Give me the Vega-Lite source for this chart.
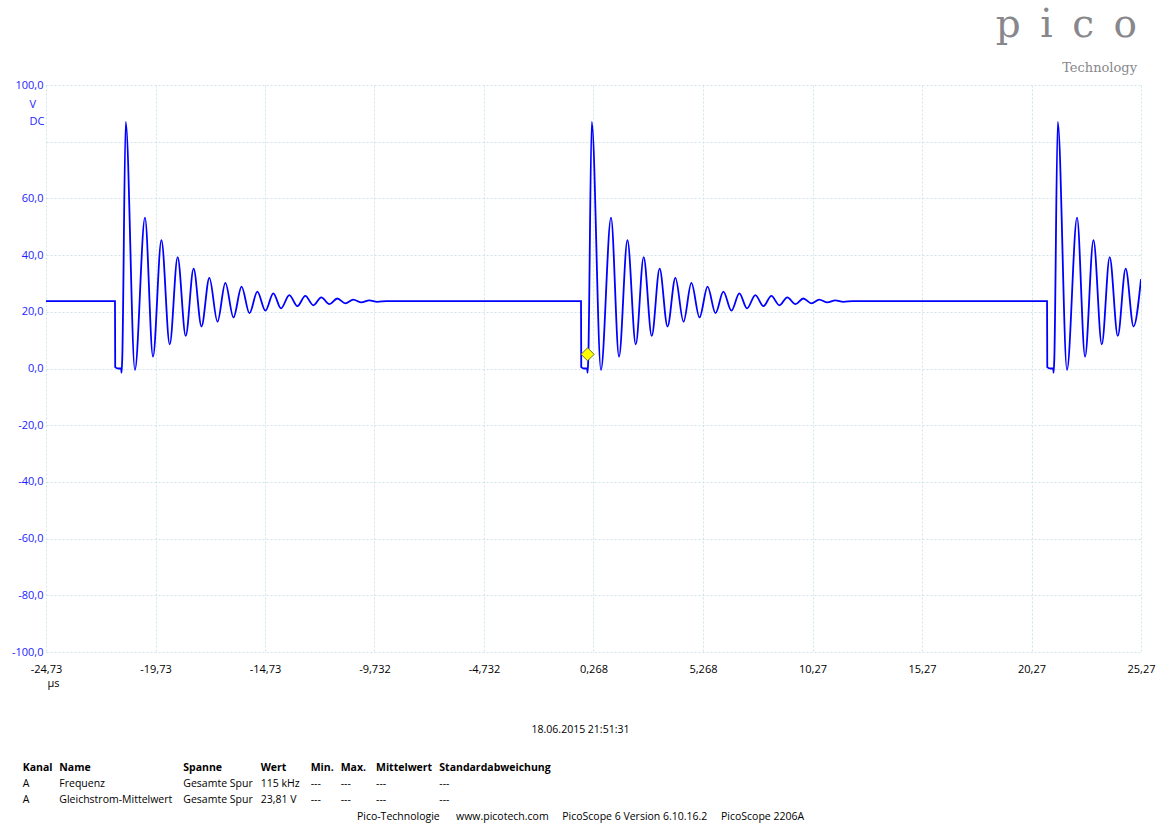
{
  "$schema": "https://vega.github.io/schema/vega-lite/v6.json",
  "autosize": {"type": "pad"},
  "padding": {"left": 11, "top": 6, "right": 0, "bottom": 0},
  "background": "#ffffff",
  "config": {
    "font": "Open Sans",
    "view": {"stroke": null},
    "axis": {"labelFont": "Open Sans", "labelFontSize": 11, "gridColor": "#cfe5ea", "gridDash": [2, 2], "gridWidth": 1, "domain": false, "ticks": false, "tickSize": 0, "labelOverlap": false, "labelFlush": false, "labelBound": false}
  },
  "datasets": {
    "trace": [
      {"t": -24.73, "v": 23.8},
      {"t": -21.58, "v": 23.8}, {"t": -21.57, "v": 0.5}, {"t": -21.43, "v": 0.0}, {"t": -21.30, "v": 0.0}, {"t": -21.28, "v": -1.5}, {"t": -21.25, "v": 3.0},
      {"t": -21.09, "v": 87.0}, {"t": -20.67, "v": -0.5}, {"t": -20.21, "v": 53.2}, {"t": -19.845, "v": 4.2}, {"t": -19.46, "v": 45.3}, {"t": -19.08, "v": 8.5},
      {"t": -18.72, "v": 39.3}, {"t": -18.35, "v": 11.5}, {"t": -17.99, "v": 35.2}, {"t": -17.63, "v": 14.8}, {"t": -17.27, "v": 32.0}, {"t": -16.90, "v": 16.5},
      {"t": -16.54, "v": 30.2}, {"t": -16.17, "v": 18.0}, {"t": -15.80, "v": 28.9}, {"t": -15.44, "v": 19.5}, {"t": -15.08, "v": 27.1}, {"t": -14.71, "v": 20.4},
      {"t": -14.35, "v": 26.5}, {"t": -14.00, "v": 21.2}, {"t": -13.62, "v": 25.9}, {"t": -13.25, "v": 22.0}, {"t": -12.89, "v": 25.6}, {"t": -12.52, "v": 22.3},
      {"t": -12.16, "v": 25.1}, {"t": -11.79, "v": 22.7}, {"t": -11.43, "v": 24.7}, {"t": -11.06, "v": 23.0}, {"t": -10.70, "v": 24.3}, {"t": -10.33, "v": 23.3},
      {"t": -9.97, "v": 24.0}, {"t": -9.60, "v": 23.5}, {"t": -9.18, "v": 23.8},
      {"t": -0.30, "v": 23.8}, {"t": -0.29, "v": 0.5}, {"t": -0.15, "v": 0.0}, {"t": -0.02, "v": 0.0}, {"t": 0.00, "v": -1.5}, {"t": 0.03, "v": 3.0},
      {"t": 0.19, "v": 87.0}, {"t": 0.61, "v": -0.5}, {"t": 1.07, "v": 53.2}, {"t": 1.435, "v": 4.2}, {"t": 1.82, "v": 45.3}, {"t": 2.20, "v": 8.5},
      {"t": 2.56, "v": 39.3}, {"t": 2.93, "v": 11.5}, {"t": 3.29, "v": 35.2}, {"t": 3.65, "v": 14.8}, {"t": 4.01, "v": 32.0}, {"t": 4.38, "v": 16.5},
      {"t": 4.74, "v": 30.2}, {"t": 5.11, "v": 18.0}, {"t": 5.48, "v": 28.9}, {"t": 5.84, "v": 19.5}, {"t": 6.20, "v": 27.1}, {"t": 6.57, "v": 20.4},
      {"t": 6.93, "v": 26.5}, {"t": 7.28, "v": 21.2}, {"t": 7.66, "v": 25.9}, {"t": 8.03, "v": 22.0}, {"t": 8.39, "v": 25.6}, {"t": 8.76, "v": 22.3},
      {"t": 9.12, "v": 25.1}, {"t": 9.49, "v": 22.7}, {"t": 9.85, "v": 24.7}, {"t": 10.22, "v": 23.0}, {"t": 10.58, "v": 24.3}, {"t": 10.95, "v": 23.3},
      {"t": 11.31, "v": 24.0}, {"t": 11.68, "v": 23.5}, {"t": 12.10, "v": 23.8},
      {"t": 20.98, "v": 23.8}, {"t": 20.99, "v": 0.5}, {"t": 21.13, "v": 0.0}, {"t": 21.26, "v": 0.0}, {"t": 21.28, "v": -1.5}, {"t": 21.31, "v": 3.0},
      {"t": 21.47, "v": 87.0}, {"t": 21.89, "v": -0.5}, {"t": 22.35, "v": 53.2}, {"t": 22.715, "v": 4.2}, {"t": 23.10, "v": 45.3}, {"t": 23.48, "v": 8.5},
      {"t": 23.84, "v": 39.3}, {"t": 24.21, "v": 11.5}, {"t": 24.57, "v": 35.2}, {"t": 24.93, "v": 14.8}, {"t": 25.27, "v": 31.5}
    ],
    "trigger": [{"t": 0, "v": 5}],
    "table": [
      {"r": 0, "c": 8, "s": "18.06.2015 21:51:31"},
      {"r": 1, "c": 0, "s": "Kanal"}, {"r": 1, "c": 1, "s": "Name"}, {"r": 1, "c": 2, "s": "Spanne"}, {"r": 1, "c": 3, "s": "Wert"},
      {"r": 1, "c": 4, "s": "Min."}, {"r": 1, "c": 5, "s": "Max."}, {"r": 1, "c": 6, "s": "Mittelwert"}, {"r": 1, "c": 7, "s": "Standardabweichung"},
      {"r": 2, "c": 0, "s": "A"}, {"r": 2, "c": 1, "s": "Frequenz"}, {"r": 2, "c": 2, "s": "Gesamte Spur"}, {"r": 2, "c": 3, "s": "115 kHz"},
      {"r": 2, "c": 4, "s": "---"}, {"r": 2, "c": 5, "s": "---"}, {"r": 2, "c": 6, "s": "---"}, {"r": 2, "c": 7, "s": "---"},
      {"r": 3, "c": 0, "s": "A"}, {"r": 3, "c": 1, "s": "Gleichstrom-Mittelwert"}, {"r": 3, "c": 2, "s": "Gesamte Spur"}, {"r": 3, "c": 3, "s": "23,81 V"},
      {"r": 3, "c": 4, "s": "---"}, {"r": 3, "c": 5, "s": "---"}, {"r": 3, "c": 6, "s": "---"}, {"r": 3, "c": 7, "s": "---"},
      {"r": 5, "c": 8, "s": "Pico-Technologie\u00a0\u00a0\u00a0\u00a0\u00a0\u00a0www.picotech.com\u00a0\u00a0\u00a0\u00a0\u00a0PicoScope 6 Version 6.10.16.2\u00a0\u00a0\u00a0\u00a0\u00a0PicoScope 2206A"}
    ]
  },
  "vconcat": [
    {
      "width": 1095,
      "height": 567,
      "title": {"text": "p\u2002i\u2002c\u2002o", "subtitle": "Technology", "anchor": "end", "frame": "group", "font": "DejaVu Serif", "fontSize": 39, "fontWeight": "normal", "color": "#88888c", "subtitleFont": "DejaVu Serif", "subtitleFontSize": 13, "subtitleColor": "#88888c", "subtitlePadding": 17, "offset": 4, "dx": -4},
      "encoding": {
        "x": {"field": "t", "type": "quantitative", "scale": {"domain": [-24.73, 25.27], "nice": false, "zero": false},
          "axis": {"values": [-24.73, -19.73, -14.73, -9.732, -4.732, 0.268, 5.268, 10.27, 15.27, 20.27, 25.27], "labelExpr": "replace(toString(datum.value), '.', ',')", "labelColor": "#000000", "labelPadding": 11,
            "title": "µs", "titleX": 1, "titleY": 34, "titleAlign": "left", "titleBaseline": "alphabetic", "titleFontWeight": "normal", "titleFontSize": 11, "titleColor": "#000000", "titleFont": "Open Sans"}},
        "y": {"field": "v", "type": "quantitative", "scale": {"domain": [-100, 100], "nice": false, "zero": false},
          "axis": {"values": [-100, -80, -60, -40, -20, 0, 20, 40, 60, 80, 100], "labelExpr": "datum.value == 80 ? '' : toString(datum.value) + ',0'", "labelColor": "#1c1cff", "labelPadding": 3,
            "title": ["V", "DC"], "titleAngle": 0, "titleX": -17, "titleY": 22, "titleAlign": "left", "titleBaseline": "alphabetic", "titleLineHeight": 17, "titleFontWeight": "normal", "titleFontSize": 11, "titleColor": "#1c1cff", "titleFont": "Open Sans"}}
      },
      "layer": [
        {"data": {"name": "trace"}, "mark": {"type": "line", "color": "#0000ff", "strokeWidth": 1.8, "interpolate": "monotone", "clip": true}},
        {"data": {"name": "trigger"}, "mark": {"type": "point", "shape": "diamond", "filled": true, "fill": "#ffff00", "stroke": "#6b6b2a", "strokeWidth": 1, "size": 170, "opacity": 1}}
      ]
    },
    {
      "width": 1102,
      "height": 90,
      "data": {"name": "table"},
      "encoding": {
        "x": {"field": "c", "type": "quantitative", "scale": {"domain": [0, 1, 2, 3, 4, 5, 6, 7, 8, 9], "range": [-23.3, 13.3, 137.3, 214.7, 264.7, 294.7, 330, 393.3, 534.5, 1102], "nice": false, "zero": false}, "axis": null},
        "y": {"field": "r", "type": "quantitative", "scale": {"domain": [0, 1, 2, 3, 4, 5], "range": [0, 37.7, 53.7, 69.7, 80.3, 87], "nice": false, "zero": false}, "axis": null}
      },
      "layer": [
        {"transform": [{"filter": "datum.r == 1"}], "mark": {"type": "text", "align": "left", "baseline": "middle", "fontSize": 10.5, "fontWeight": "bold", "color": "#000000"}, "encoding": {"text": {"field": "s"}}},
        {"transform": [{"filter": "datum.r == 2 || datum.r == 3"}], "mark": {"type": "text", "align": "left", "baseline": "middle", "fontSize": 10.5, "color": "#000000"}, "encoding": {"text": {"field": "s"}}},
        {"transform": [{"filter": "datum.c == 8"}], "mark": {"type": "text", "align": "center", "baseline": "middle", "fontSize": 10.5, "color": "#000000"}, "encoding": {"text": {"field": "s"}}},
        {"data": {"values": [{"k": "rule"}]}, "mark": {"type": "rule", "color": "#444444", "strokeWidth": 1.5},
          "encoding": {"x": {"datum": 0, "type": "quantitative"}, "x2": {"datum": 9}, "y": {"datum": 4, "type": "quantitative"}}}
      ]
    }
  ],
  "spacing": 37
}
